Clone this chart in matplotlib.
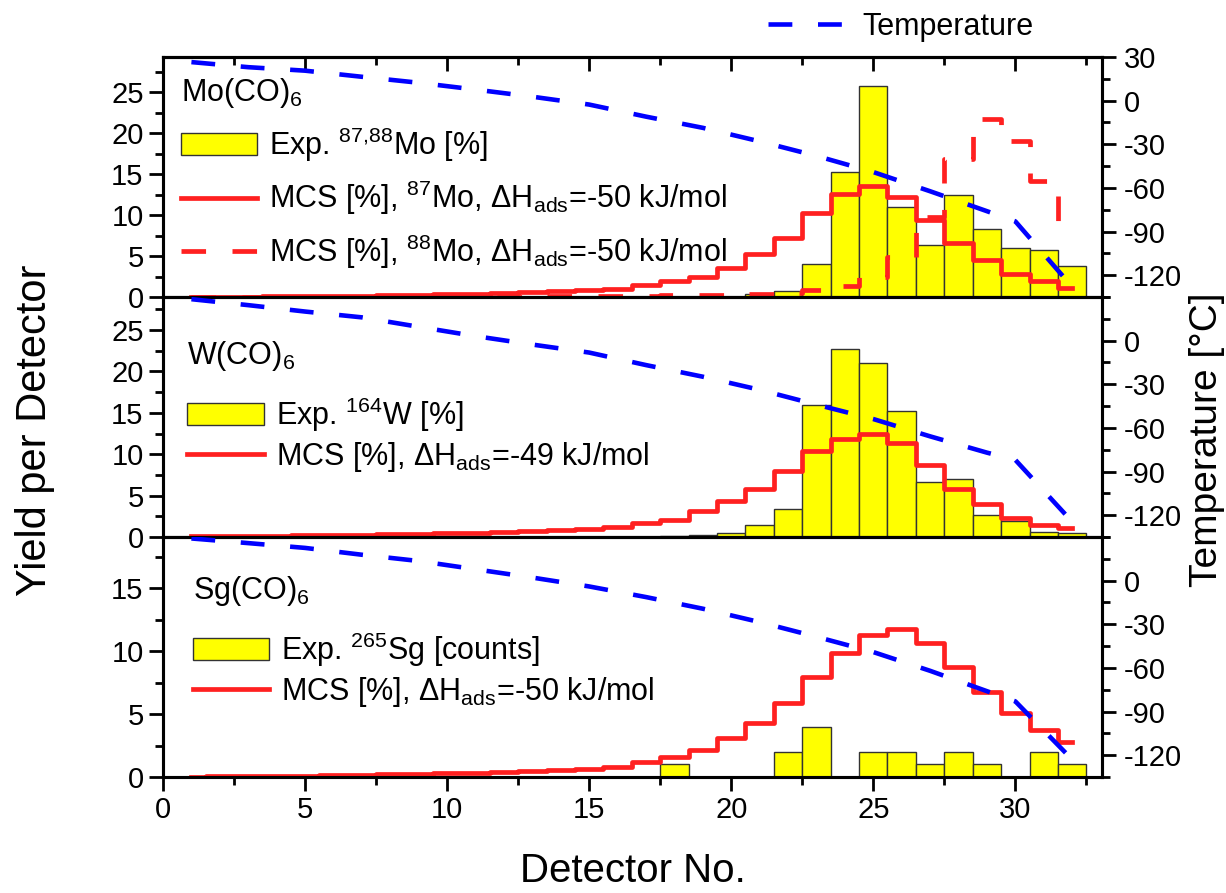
import numpy as np
import matplotlib
matplotlib.use("Agg")
import matplotlib.pyplot as plt
from matplotlib.lines import Line2D
from matplotlib.patches import Patch
from matplotlib.ticker import MultipleLocator

plt.rcParams['font.family'] = ['Liberation Sans', 'DejaVu Sans']
plt.rcParams['mathtext.fontset'] = 'custom'
plt.rcParams['mathtext.rm'] = 'Liberation Sans'
plt.rcParams['mathtext.it'] = 'Liberation Sans:italic'
plt.rcParams['mathtext.default'] = 'regular'
plt.rcParams['axes.unicode_minus'] = False

# detector numbers
detectors = np.arange(1, 33)

# Mo(CO)6 panel
mo_exp = [0] * 20 + [0.4, 0.7, 4.0, 15.2, 25.8, 11.0, 6.3, 12.4, 8.3, 6.0, 5.7, 3.8]
mo87_mcs = [0.02, 0.03, 0.05, 0.07, 0.1, 0.13, 0.17, 0.22, 0.28, 0.35, 0.42, 0.5, 0.6, 0.72, 0.85,
            1.0, 1.5, 1.9, 2.4, 3.6, 5.2, 7.2, 10.2, 12.6, 13.6, 12.2, 9.4, 6.6, 4.5, 2.8, 2.0, 1.1]
mo88_mcs = [0, 0, 0, 0, 0, 0, 0, 0, 0, 0, 0.02, 0.03, 0.05, 0.07, 0.1, 0.13, 0.17, 0.2, 0.25, 0.3,
            0.35, 0.45, 0.85, 1.3, 2.5, 4.9, 9.8, 16.9, 21.7, 19.1, 14.2, 9.1]

# W(CO)6 panel
w_exp = [0] * 17 + [0.1, 0.25, 0.45, 1.4, 3.4, 15.9, 22.7, 21.0, 15.2, 6.6, 7.0, 2.6, 1.9, 0.55, 0.5]
w_mcs = [0.1, 0.12, 0.15, 0.18, 0.2, 0.25, 0.3, 0.35, 0.4, 0.45, 0.5, 0.6, 0.7, 0.8, 0.95,
         1.17, 1.65, 2.1, 3.1, 4.35, 5.8, 8.0, 10.4, 11.9, 12.4, 11.4, 8.7, 5.8, 4.0, 2.3, 1.5, 1.1]

# Sg(CO)6 panel
sg_exp = [0] * 17 + [1, 0, 0, 0, 2, 4, 0, 2, 2, 1, 2, 1, 0, 2, 1]
sg_mcs = [0.03, 0.05, 0.07, 0.09, 0.11, 0.14, 0.17, 0.2, 0.24, 0.28, 0.33, 0.39, 0.46, 0.55, 0.65,
          0.77, 1.2, 1.6, 2.14, 3.07, 4.26, 5.85, 7.96, 9.87, 11.27, 11.75, 10.6, 8.76, 6.72, 5.05, 3.73, 2.8]

# temperature profiles (deg C)
temp_x = [1, 3, 5, 7, 9, 11, 13, 15, 17, 19, 21, 23, 25, 27, 29, 30, 32]
temp_mo = [26.5, 23.0, 20.6, 16.4, 12.3, 7.6, 2.7, -2.7, -11, -18.7, -28, -38, -49.1, -62.3, -76, -83, -128]
temp_w = [28.5, 24.4, 20.0, 16.0, 9.5, 3.1, -2.7, -8.2, -16.8, -24.8, -33.8, -44, -53.9, -65.8, -77, -82, -124.5]
temp_sg = [29, 25.8, 22.5, 17.8, 13.5, 7.8, 2.1, -4, -11.3, -19.3, -28.5, -38.6, -49.1, -62, -76, -83, -123]

FS = 22
TICK_FS = 21
RED = '#ff2020'
BLUE = '#0000ff'
DASH = (5.2, 5.6)

fig = plt.figure(figsize=(12.26, 8.93), dpi=100)
L, R = 163 / 1226, 1102 / 1226
tops = [57, 297, 537]
axes = []
for t in tops:
    ax = fig.add_axes([L, 1 - (t + 240) / 893, R - L, 240 / 893])
    axes.append(ax)

panels = [
    (mo_exp, [(mo87_mcs, '-'), (mo88_mcs, '--')], temp_mo, 29.3),
    (w_exp, [(w_mcs, '-')], temp_w, 29.0),
    (sg_exp, [(sg_mcs, '-')], temp_sg, 19.05),
]

for i, (ax, (exp, sims, temp, ytop)) in enumerate(zip(axes, panels)):
    ax.bar(detectors, exp, width=1.0, color='#ffff00', edgecolor='#333333', linewidth=1.0, zorder=2)
    for sim, ls in sims:
        if ls == '-':
            ax.plot(detectors, sim, drawstyle='steps-mid', color=RED, lw=3.4, zorder=3)
        else:
            ax.plot(detectors, sim, drawstyle='steps-mid', color=RED, lw=3.4, zorder=3,
                    dashes=DASH)
    ax.set_xlim(0, 33.05)
    ax.set_ylim(0, ytop)
    ax.xaxis.set_major_locator(MultipleLocator(5))
    ax.xaxis.set_minor_locator(MultipleLocator(2.5))
    ax.yaxis.set_major_locator(MultipleLocator(5))
    ax.yaxis.set_minor_locator(MultipleLocator(2.5))
    ax.tick_params(axis='both', which='major', direction='out', length=10, width=2,
                   labelsize=TICK_FS, pad=4)
    ax.tick_params(axis='both', which='minor', direction='out', length=6, width=2)
    ax.tick_params(axis='y', which='both', right=False)
    ax.tick_params(axis='x', which='both', top=False)
    if i < 2:
        ax.tick_params(axis='x', which='both', labelbottom=False)
    for s in ax.spines.values():
        s.set_linewidth(2.2)

    tw = ax.twinx()
    tw.plot(temp_x, temp, color=BLUE, lw=3.3, dashes=DASH, zorder=4)
    tw.set_ylim(-135, 30)
    if i == 0:
        tw.set_yticks([-120, -90, -60, -30, 0, 30])
    else:
        tw.set_yticks([-120, -90, -60, -30, 0])
    tw.yaxis.set_minor_locator(MultipleLocator(15))
    tw.tick_params(axis='y', which='major', direction='out', length=10, width=2,
                   labelsize=TICK_FS, pad=6)
    tw.tick_params(axis='y', which='minor', direction='out', length=6, width=2)
    for s in tw.spines.values():
        s.set_linewidth(2.2)

# inward ticks on the top edge of the upper panel
sec = axes[0].secondary_xaxis('top')
sec.xaxis.set_major_locator(MultipleLocator(5))
sec.xaxis.set_minor_locator(MultipleLocator(2.5))
sec.tick_params(axis='x', which='major', direction='in', length=10, width=2, labeltop=False)
sec.tick_params(axis='x', which='minor', direction='in', length=6, width=2)
sec.spines['top'].set_linewidth(2.2)

# legends
yel = Patch(facecolor='#ffff00', edgecolor='#333333', linewidth=1.0)
red_solid = Line2D([], [], color=RED, lw=3.4)
red_dash = Line2D([], [], color=RED, lw=3.4, dashes=DASH)

leg_kw = dict(loc='upper left', borderaxespad=0, fontsize=FS, title_fontsize=FS,
              frameon=True, fancybox=False, framealpha=0, edgecolor='#555555',
              handlelength=2.5, handletextpad=0.4, borderpad=0.3, alignment='left')

lg = axes[0].legend([yel, red_solid, red_dash],
                    ['Exp. $^{87{,}88}$Mo [%]',
                     'MCS [%], $^{87}$Mo, ΔH$_{ads}$=-50 kJ/mol',
                     'MCS [%], $^{88}$Mo, ΔH$_{ads}$=-50 kJ/mol'],
                    title='Mo(CO)$_6$', bbox_to_anchor=(0.009, 0.958),
                    labelspacing=0.5, **leg_kw)
lg.get_frame().set_linewidth(1.0)

lg = axes[1].legend([yel, red_solid],
                    ['Exp. $^{164}$W [%]',
                     'MCS [%], ΔH$_{ads}$=-49 kJ/mol'],
                    title='W(CO)$_6$', bbox_to_anchor=(0.016, 0.8625),
                    labelspacing=0.2, **leg_kw)
lg.get_frame().set_linewidth(1.0)
lg._legend_box.sep = 16

lg = axes[2].legend([yel, red_solid],
                    ['Exp. $^{265}$Sg [counts]',
                     'MCS [%], ΔH$_{ads}$=-50 kJ/mol'],
                    title='Sg(CO)$_6$', bbox_to_anchor=(0.022, 0.883),
                    labelspacing=0.2, **leg_kw)
lg.get_frame().set_linewidth(1.0)
lg._legend_box.sep = 16

# temperature legend on top
fig.legend([Line2D([], [], color=BLUE, lw=3.3, dashes=DASH)], ['Temperature'],
           loc='center left', bbox_to_anchor=(740 / 1226, 1 - 27 / 893),
           frameon=False, fontsize=FS, handlelength=2.6, handletextpad=0.5)

fig.text(35 / 1226, 1 - 430 / 893, 'Yield per Detector', rotation=90,
         ha='center', va='center', fontsize=30)
fig.text(1207 / 1226, 1 - 440 / 893, 'Temperature [°C]', rotation=90,
         ha='center', va='center', fontsize=28)
fig.text((163 + 1102) / 2 / 1226, 1 - 871 / 893, 'Detector No.',
         ha='center', va='center', fontsize=29)

fig.savefig('out.png', dpi=100)
